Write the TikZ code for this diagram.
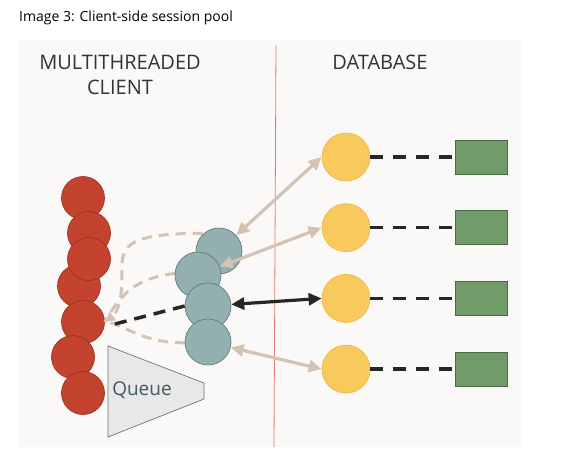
\documentclass[tikz,border=0pt]{standalone}
\usepackage{fontspec}
\setmainfont{Open Sans}
\usetikzlibrary{arrows.meta, positioning}

\definecolor{panelbg}{HTML}{FAF9F8}
\definecolor{threadred}{HTML}{C4432F}
\definecolor{threadedge}{HTML}{9C3323}
\definecolor{sessteal}{HTML}{93AFAF}
\definecolor{sessedge}{HTML}{5E7F7F}
\definecolor{srvyellow}{HTML}{F8CA5E}
\definecolor{srvedge}{HTML}{F0BA40}
\definecolor{datagreen}{HTML}{729B6A}
\definecolor{dataedge}{HTML}{4D6A48}
\definecolor{tan}{HTML}{D4C3B3}
\definecolor{headgray}{HTML}{333333}
\definecolor{queuetext}{HTML}{3F5D5F}
\definecolor{splitred}{HTML}{E27A72}

\begin{document}
\begin{tikzpicture}[
    x=1pt, y=-1pt,
    thread/.style={circle, draw=threadedge, fill=threadred, line width=0.7pt, minimum size=43pt, inner sep=0pt},
    session/.style={circle, draw=sessedge, fill=sessteal, line width=0.7pt, minimum size=46pt, inner sep=0pt},
    server/.style={circle, draw=srvedge, fill=srvyellow, line width=0.7pt, minimum size=48pt, inner sep=0pt},
    datablock/.style={rectangle, draw=dataedge, fill=datagreen, line width=0.7pt, minimum width=52pt, minimum height=34pt, inner sep=0pt},
    heading/.style={align=center, text=headgray, font=\fontsize{20}{25}\selectfont},
    tanline/.style={draw=tan, line width=3.2pt, {Triangle[length=13pt,width=12pt]}-{Triangle[length=13pt,width=12pt]}},
    darkline/.style={draw=black!85, line width=3.2pt, {Triangle[length=13pt,width=12pt]}-{Triangle[length=13pt,width=12pt]}},
    linkdash/.style={draw=black!85, line width=3.5pt, dash pattern=on 13pt off 10pt},
    pooldash/.style={draw=tan, line width=3pt, dash pattern=on 10pt off 7pt}
]

\useasboundingbox (0,0) rectangle (573,451);
\fill[white] (0,0) rectangle (573,451);
\fill[panelbg] (18,40) rectangle (522,447);

% Title and headings
\node[anchor=west, inner sep=0pt, font=\fontsize{14}{16}\selectfont] (title) at (19,18) {Image 3: Client-side session pool};
\node[heading] (client) at (120,75) {MULTITHREADED\\CLIENT};
\node[heading] (db) at (380,62) {DATABASE};

% Client / database split
\draw[splitred, line width=0.8pt] (276,45) -- (274,447);

% Threads
\node[thread] (r1) at (83,198) {};
\node[thread] (r2) at (89,233) {};
\node[thread] (r4) at (79,286) {};
\node[thread] (r3) at (89,259) {};
\node[thread] (r5) at (83,322) {};
\node[thread] (r6) at (73,357) {};
\node[thread] (r7) at (83,393) {};

% Queue
\draw[draw=black!55, fill=black!9, line width=0.7pt] (108,346) -- (204,383) -- (204,399) -- (108,437) -- cycle;
\node[text=queuetext, font=\fontsize{19}{22}\selectfont] (queue) at (142,390) {Queue};

% Pool sessions handed back to a thread
\draw[pooldash, -{Triangle[length=10pt,width=10pt]}] (219,251) ++(-133:24) .. controls (118,233) and (122,250) .. (122,275) .. controls (122,300) and (118,312) .. (r5.east);
\draw[pooldash] (198,275) ++(-176:23) .. controls (135,278) and (120,295) .. (r5.east);
\draw[pooldash] (208,342) ++(178:23) .. controls (140,343) and (125,324) .. (r5.east);

% Sessions
\node[session] (tA) at (219,251) {};
\node[session] (tB) at (198,275) {};
\node[session] (tC) at (208,306) {};
\node[session] (tD) at (208,342) {};

\draw[linkdash, dash pattern=on 12pt off 8pt] (tC.west) -- ([xshift=10pt,yshift=-2pt]r5.east);

% Server processes and data
\node[server] (y1) at (346,157) {};
\node[server, below=22pt of y1] (y2) {};
\node[server, below=22pt of y2] (y3) {};
\node[server, below=22pt of y3] (y4) {};

\node[datablock, right=85pt of y1] (g1) {};
\node[datablock, right=85pt of y2] (g2) {};
\node[datablock, right=85pt of y3] (g3) {};
\node[datablock, right=85pt of y4] (g4) {};

\draw[linkdash] (y1.east) -- (g1.west);
\draw[linkdash] (y2.east) -- (g2.west);
\draw[linkdash] (y3.east) -- (g3.west);
\draw[linkdash] (y4.east) -- (g4.west);

% Session <-> server
\draw[tanline] (tA) -- (y1.west);
\draw[tanline] (tB) -- (y2.west);
\draw[darkline] (tC) -- (y3.west);
\draw[tanline] (tD) -- (y4.west);

\end{tikzpicture}
\end{document}
